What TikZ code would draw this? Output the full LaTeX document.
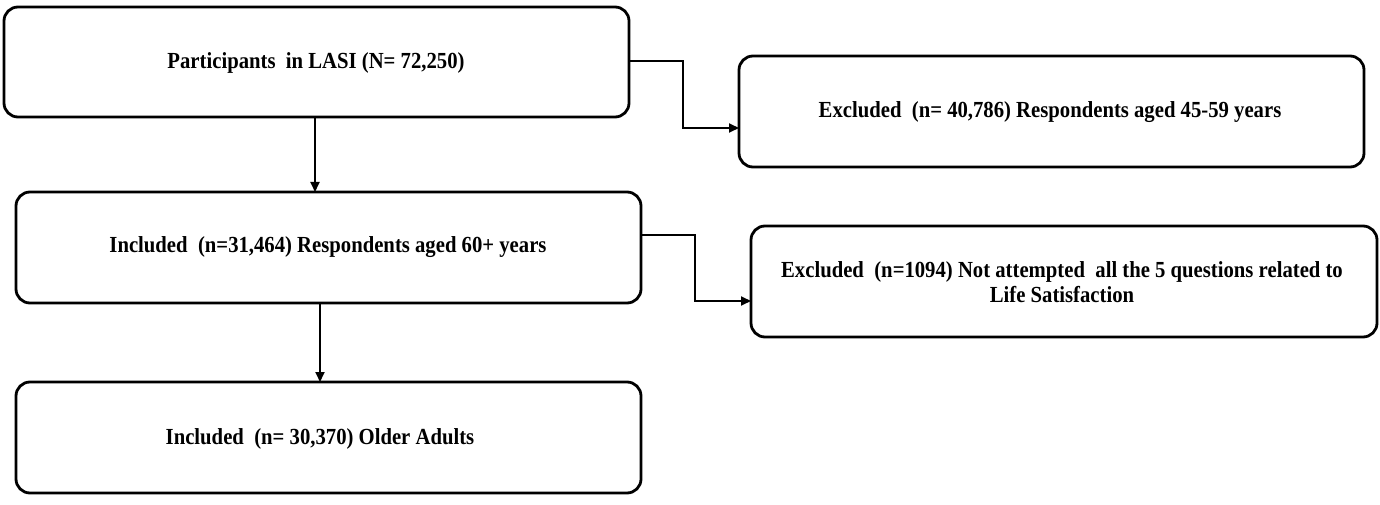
\documentclass[tikz,border=0pt]{standalone}
\usepackage{fontspec}
\setmainfont{Liberation Serif}[FakeStretch=0.9]
\usetikzlibrary{arrows.meta}
\begin{document}
\begin{tikzpicture}[x=1pt,y=-1pt,
  box/.style={draw=black,line width=2.8pt,rounded corners=14pt,fill=white},
  lbl/.style={font=\bfseries\fontsize{23}{24.5}\selectfont,align=center,inner sep=0pt},
  conn/.style={draw=black,line width=1.8pt,-{Triangle[length=10pt,width=9pt]}}]
\useasboundingbox (0,0) rectangle (1380,505);
\fill[white] (0,0) rectangle (1380,505);
\draw[box] (4,7) rectangle (629,117);
\draw[box] (16,192) rectangle (641,303);
\draw[box] (16,382) rectangle (641,493);
\draw[box] (739,56) rectangle (1364,167);
\draw[box] (751,226) rectangle (1377,337);
\node[lbl] (a) at (316,63) {Participants\ \ in LASI (N= 72,250)};
\node[lbl] (b) at (328,247) {Included\ \ (n=31,464) Respondents aged 60+ years};
\node[lbl] (c) at (320,439) {Included\ \ (n= 30,370) Older Adults};
\node[lbl] (d) at (1050,112) {Excluded\ \ (n= 40,786) Respondents aged 45-59 years};
\node[lbl] (e) at (1062,282) {Excluded\ \ (n=1094) Not attempted\ \ all the 5 questions related to\\Life Satisfaction};
\coordinate (aS) at (315,117);
\coordinate (bN) at (315,192);
\coordinate (bS) at (320,303);
\coordinate (cN) at (320,382);
\coordinate (aE) at (629,61);
\coordinate (dW) at (739,128);
\coordinate (bE) at (641,235);
\coordinate (eW) at (751,301);
\draw[conn] (aS) -- (bN);
\draw[conn] (bS) -- (cN);
\draw[conn] (aE) -- (683,61) -- (683,128) -- (dW);
\draw[conn] (bE) -- (695,235) -- (695,301) -- (eW);
\end{tikzpicture}
\end{document}
